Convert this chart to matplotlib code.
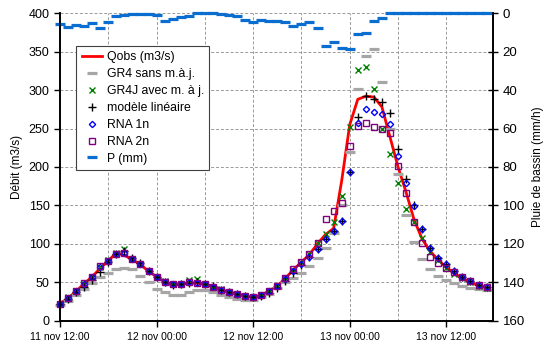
import numpy as np
import matplotlib
matplotlib.use("Agg")
import matplotlib.pyplot as plt

plt.rcParams['font.family'] = ['Liberation Sans', 'DejaVu Sans']

# hours since 11 nov 12:00 (hourly data)
hours = np.arange(54)

qobs = [22, 29, 38, 48, 57, 68, 78, 88, 85, 79, 73, 64, 57, 50, 47, 47.5, 49, 49, 47, 44,
        40, 37, 35, 32, 30.5, 33, 38.5, 45, 55, 66, 76, 86, 100, 112, 120, 182, 255, 288, 292, 291,
        278, 239, 200, 167, 131, 106, 90, 79, 69, 61, 55, 49.5, 45.5, 42]
gr4 = [20, 26, 33, 41, 49, 56, 62, 66.6, 69, 66.6, 58.5, 49.5, 41.4, 36.5, 33.6, 33.6, 36.7, 39.7, 39.7, 37.5,
       33.6, 30, 27.6, 26.3, 26.7, 31, 35, 42, 49.7, 55.8, 62.3, 71, 81.8, 94.8, 113.5, 150, 220, 302, 344, 353.5,
       311, 249, 191, 138, 102.6, 80, 66.7, 58, 52.7, 48.4, 45, 42.3, 40.6, 39.7]
gr4j = [22, 30, 38, 48, 57, 70, 79, 88, 92.7, 80, 74, 64, 57, 51, 47, 48, 52.7, 53.6, 48, 43,
        40.6, 37, 35, 31.5, 30, 33, 38, 45, 55, 66, 76, 87, 101.3, 112.6, 128.6, 162.5, 251.6, 326, 329.7, 301,
        249, 216.8, 179.4, 144.8, 127.8, 107, 89.6, 79, 69, 61, 55, 50, 45.5, 42]
lin = [22, 28, 37, 44, 52.7, 63.5, 75.8, 86.6, 90, 81.4, 75, 65, 57, 50, 46.5, 47, 49, 49.5, 48, 44.5,
       40, 37, 35, 32, 30.5, 32, 36, 42, 51, 62, 72.3, 82.3, 92.7, 105.7, 116.5, 129.6, 193, 265, 292, 288,
       284, 270, 223, 183.6, 150, 119, 95, 82, 73, 64, 56.5, 51.5, 46.5, 43]
rna1 = [22, 29, 38, 48, 57, 70, 78, 87, 88, 80, 74, 64.5, 57, 50, 47, 48, 49.5, 49, 47.5, 44,
        40, 37, 35, 32.3, 30.6, 33, 38, 44.5, 54, 64, 73, 82.3, 92.7, 105.7, 116.5, 130, 193, 257, 276, 271,
        268.5, 255.5, 214, 178.6, 149, 118.7, 94.8, 81.8, 73, 64, 56.5, 51.5, 46.5, 43]
rna2 = [21.5, 29, 38.4, 48.4, 57, 71, 78, 86.6, 88.3, 79.7, 74, 64.5, 57, 50, 47, 48, 49.7, 49, 47.5, 44,
        39.7, 37, 35, 32.3, 30.6, 33.2, 38.4, 45.3, 55, 67.5, 76, 86.6, 100.5, 131.8, 142.6, 152.6, 227.6, 253, 257.6, 251.5,
        249, 243.7, 201.2, 165.6, 128.6, 101.3, 83, 75.3, 68, 63.5, 56, 51.4, 46.2, 43]
pluie = [5.7, 7, 6.1, 6.5, 5.2, 7.7, 4.4, 1.4, 1.0, 0.4, 0.4, 0.4, 0.9, 4.0, 3.1, 1.8, 1.2, 0, 0, 0,
         0.2, 0.7, 1.6, 3.3, 4.4, 3.7, 4.2, 3.8, 4.7, 6.4, 5.6, 4.7, 7.8, 17, 15, 18.2, 18.6, 10.8, 10.3, 3.8,
         2.3, 0, 0, 0, 0, 0, 0, 0, 0, 0, 0, 0, 0, 0]

xtick_pos = [0, 12, 24, 36, 48]
xtick_labels = ["11 nov 12:00", "12 nov 00:00", "12 nov 12:00", "13 nov 00:00", "13 nov 12:00"]

fig = plt.figure(figsize=(5.44, 3.47), dpi=100)
ax = fig.add_axes([60/544, 26.5/347, 433/544, 307.2/347])
ax2 = ax.twinx()

grid_kw = dict(color='#9a9a9a', lw=0.7, ls=(0, (3, 2)))
ax.set_axisbelow(True)
ax.set_xticks(np.arange(0, 54, 6), minor=True)
ax.grid(True, which='minor', axis='x', **grid_kw)
ax.grid(True, which='major', axis='x', **grid_kw)
ax.grid(True, which='major', axis='y', **grid_kw)

h1, = ax.plot(hours, qobs, color='#ff0000', lw=2.0, label='Qobs (m3/s)', zorder=2)
h2, = ax.plot(hours, gr4, ls='none', marker='_', ms=6.5, mew=2.3, color='#a6a6a6', label='GR4 sans m.à.j.', zorder=3, clip_on=False)
h3, = ax.plot(hours, gr4j, ls='none', marker='x', ms=4, mew=1.0, color='#008000', label='GR4J avec m. à j.', zorder=4, clip_on=False)
h4, = ax.plot(hours, lin, ls='none', marker='+', ms=5.5, mew=1.0, color='black', label='modèle linéaire', zorder=5, clip_on=False)
h5, = ax.plot(hours, rna1, ls='none', marker='D', ms=3.2, mew=1.0, mfc='none', mec='#0000ff', label='RNA 1n', zorder=6, clip_on=False)
h6, = ax.plot(hours, rna2, ls='none', marker='s', ms=3.8, mew=1.0, mfc='none', mec='#800080', label='RNA 2n', zorder=7, clip_on=False)
h7, = ax2.plot(hours, pluie, ls='none', marker='_', ms=6.5, mew=2.3, color='#0a6ed1', label='P (mm)', clip_on=False)

ax.set_xlim(0, 53.8)
ax.set_ylim(0, 400)
ax.set_yticks(np.arange(0, 401, 50))
ax.set_xticks(xtick_pos)
ax.set_xticklabels(xtick_labels, fontsize=7.5)
ax.tick_params(axis='y', labelsize=9, direction='out', length=4, width=1)
ax.tick_params(axis='x', which='major', direction='out', length=4, width=1, pad=4)
ax.tick_params(axis='x', which='minor', length=0)
ax.set_ylabel('Débit (m3/s)', fontsize=8.5, labelpad=4)

ax2.set_ylim(160, 0)
ax2.set_yticks(np.arange(0, 161, 20))
ax2.tick_params(axis='y', labelsize=9.5, direction='inout', length=7, width=1)
ax2.set_ylabel('Pluie de bassin (mm/h)', fontsize=8.5, labelpad=5)

for a in (ax, ax2):
    a.spines['top'].set_visible(False)
    for s in ('left', 'right', 'bottom'):
        a.spines[s].set_linewidth(1.2)
        a.spines[s].set_color('black')

leg = ax2.legend(handles=[h1, h2, h3, h4, h5, h6, h7], loc='upper left',
                 bbox_to_anchor=(0.037, 0.894), fontsize=8.8, frameon=True, fancybox=False,
                 edgecolor='#404040', framealpha=1, handlelength=1.7, handletextpad=0.35,
                 labelspacing=0.4, borderpad=0.45, borderaxespad=0)
leg.get_frame().set_linewidth(0.8)
leg.set_zorder(20)

fig.savefig('out.png', dpi=100)
